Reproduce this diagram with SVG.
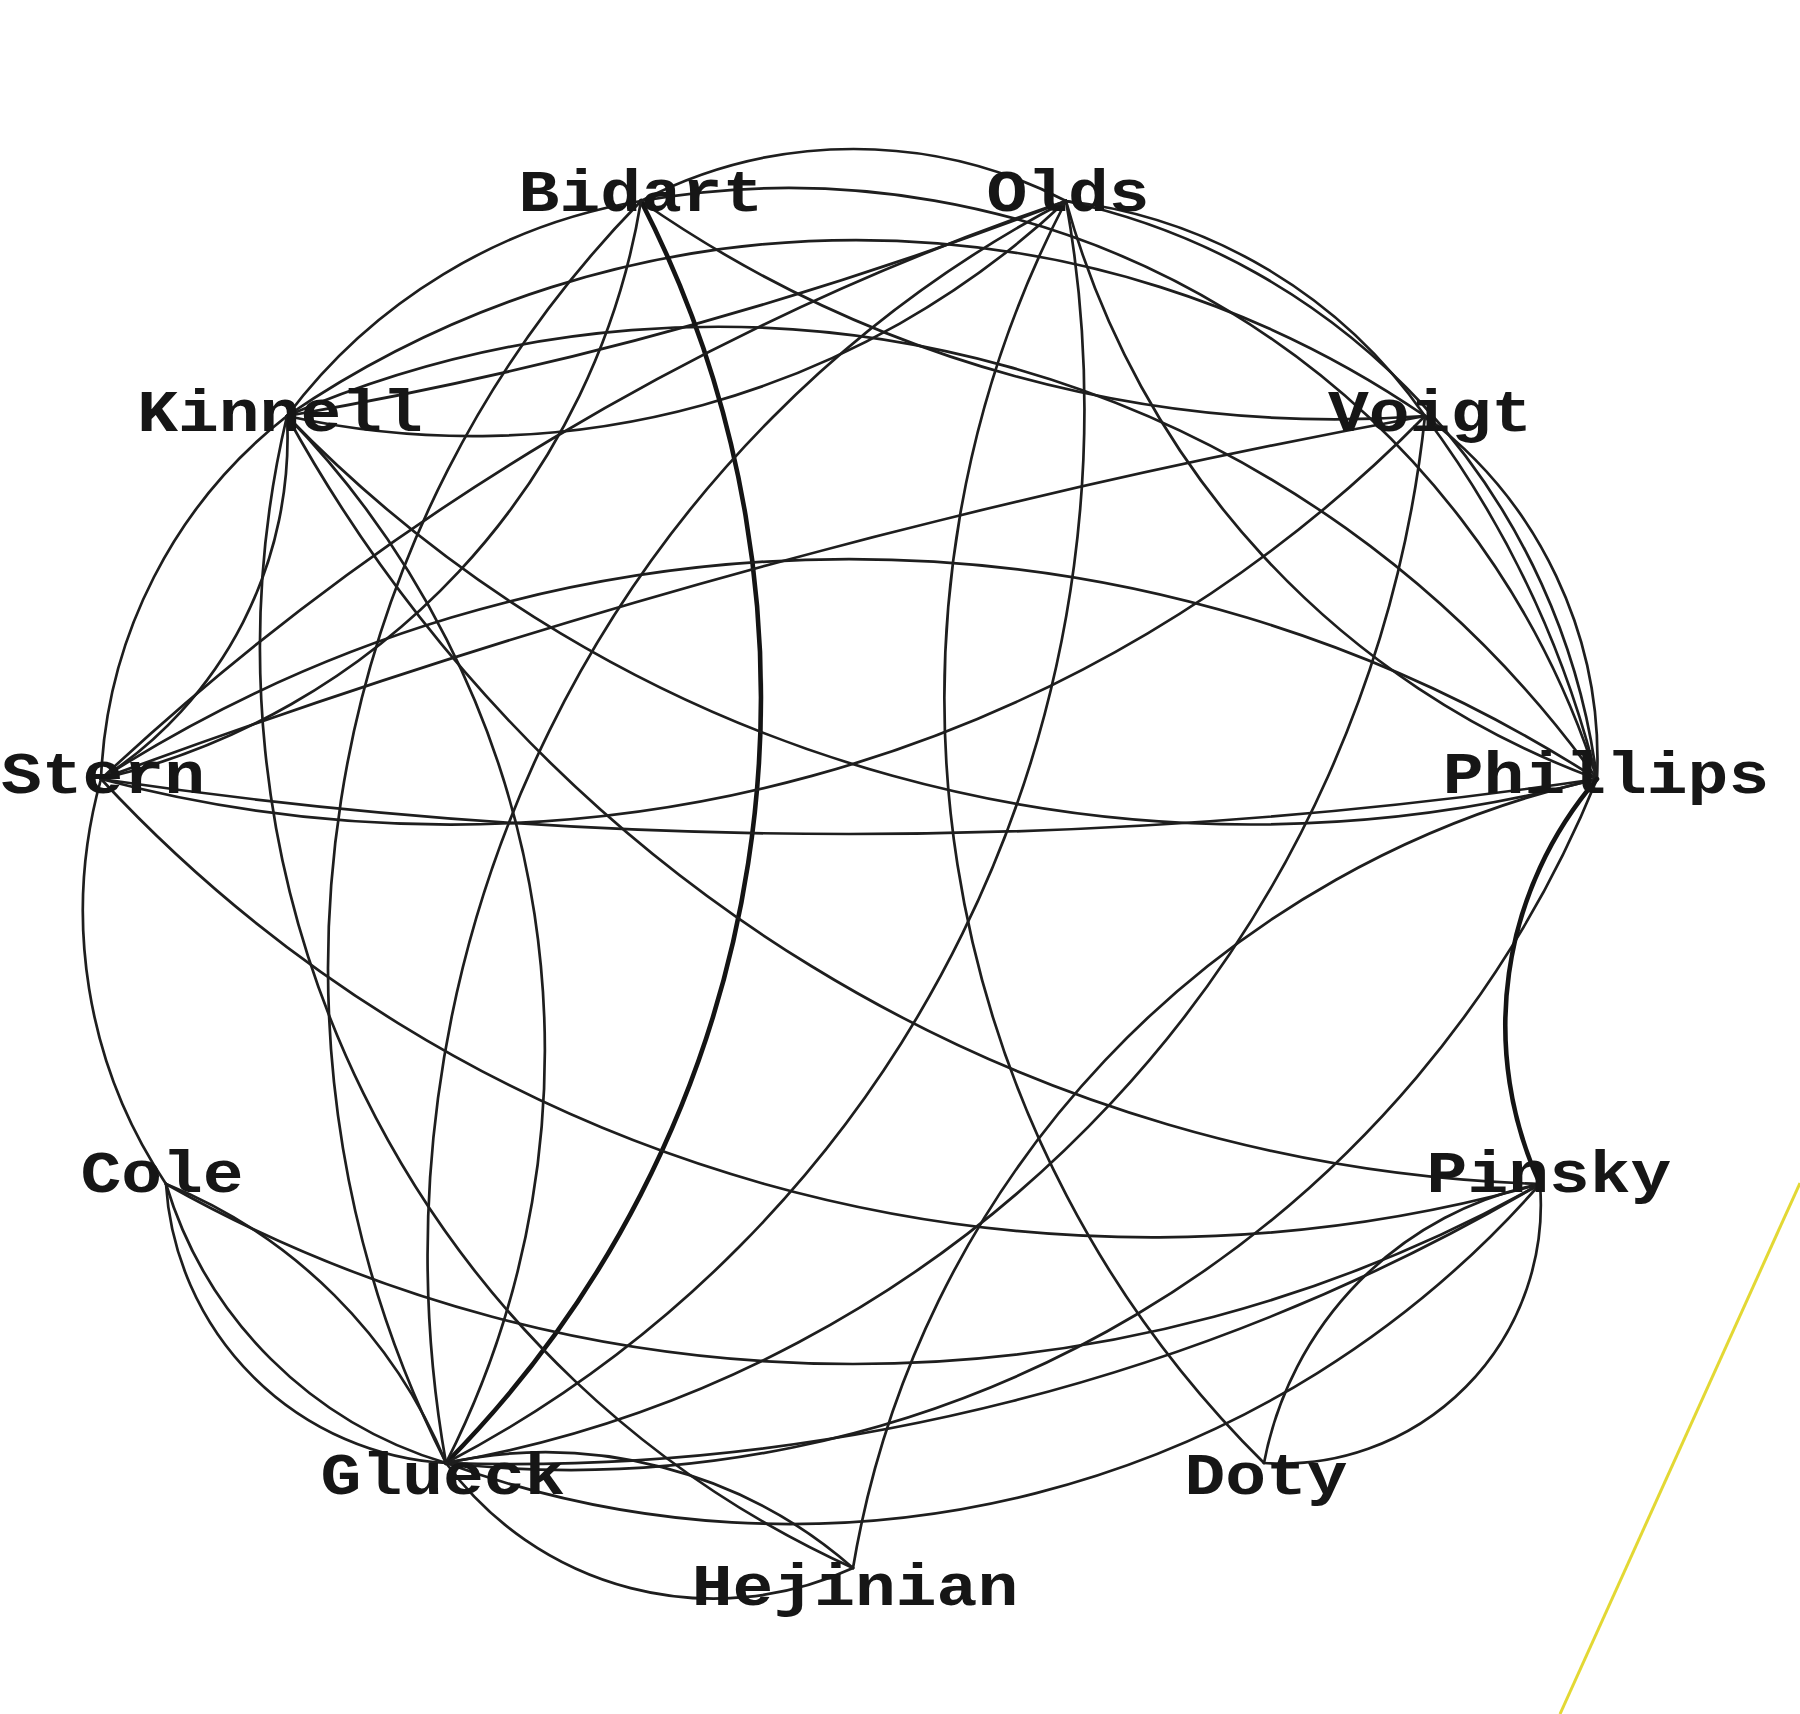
<svg xmlns="http://www.w3.org/2000/svg" width="1800" height="1714" viewBox="0 0 1800 1714">
<style>
.e{fill:none;stroke:#1e1e1e;stroke-width:2.7;stroke-linecap:round}
.t{fill:none;stroke:#141414;stroke-width:4.6;stroke-linecap:round}
.lbl{font-family:"Liberation Mono","Courier New",monospace;font-weight:bold;font-size:68px;fill:#161616;text-anchor:middle}
</style>
<rect width="1800" height="1714" fill="#ffffff"/>
<g id="connectors">
<path class="e" d="M641 201 A460 460 0 0 1 1066 201"/>
<path class="e" d="M287 416 A556 556 0 0 1 641 201"/>
<path class="e" d="M1066 201 A509 509 0 0 1 1425 416"/>
<path class="e" d="M287 416 A1008 1008 0 0 1 1425 416"/>
<path class="e" d="M287 416 A866 866 0 0 0 1066 201"/>
<path class="e" d="M287 416 A4091 4091 0 0 0 1066 201"/>
<path class="e" d="M641 201 A1215 1215 0 0 0 1425 416"/>
<path class="t" d="M641 201 A1088 1088 0 0 1 446 1463"/>
<path class="e" d="M641 201 A1097 1097 0 0 0 446 1463"/>
<path class="e" d="M641 201 A712 712 0 0 1 101 779"/>
<path class="e" d="M641 201 A848 848 0 0 1 1597 779"/>
<path class="e" d="M287 416 A485 485 0 0 0 101 779"/>
<path class="e" d="M287 416 A406 406 0 0 1 101 779"/>
<path class="e" d="M101 779 A1382 1382 0 0 1 1597 779"/>
<path class="e" d="M101 779 A5114 5114 0 0 0 1597 779"/>
<path class="e" d="M101 779 A490 490 0 0 0 166 1184"/>
<path class="e" d="M101 779 A1435 1435 0 0 0 1540 1184"/>
<path class="e" d="M287 416 A1482 1482 0 0 0 1540 1184"/>
<path class="e" d="M287 416 A1010 1010 0 0 0 853 1568"/>
<path class="e" d="M287 416 A910 910 0 0 1 446 1463"/>
<path class="e" d="M287 416 A1341 1341 0 0 0 1597 779"/>
<path class="e" d="M287 416 A1082 1082 0 0 1 1597 779"/>
<path class="e" d="M1066 201 A1076 1076 0 0 0 1264 1463"/>
<path class="e" d="M1066 201 A1189 1189 0 0 0 446 1463"/>
<path class="e" d="M1066 201 A1189 1189 0 0 1 446 1463"/>
<path class="e" d="M1066 201 A858 858 0 0 0 1597 779"/>
<path class="e" d="M1066 201 A679 679 0 0 1 1597 779"/>
<path class="e" d="M1425 416 A428 428 0 0 1 1597 779"/>
<path class="e" d="M1425 416 A1019 1019 0 0 1 1597 779"/>
<path class="e" d="M101 779 A1366 1366 0 0 0 1425 416"/>
<path class="e" d="M101 779 A7869 7869 0 0 1 1425 416"/>
<path class="e" d="M101 779 A2666 2666 0 0 1 1066 201"/>
<path class="e" d="M1597 779 A1108 1108 0 0 1 446 1463"/>
<path class="e" d="M1597 779 A974 974 0 0 0 853 1568"/>
<path class="e" d="M1540 1184 A351 351 0 0 0 1264 1463"/>
<path class="e" d="M1540 1184 A259 259 0 0 1 1264 1463"/>
<path class="t" d="M1597 779 A378 378 0 0 0 1540 1184"/>
<path class="e" d="M166 1184 A298 298 0 0 0 446 1463"/>
<path class="e" d="M166 1184 A416 416 0 0 0 446 1463"/>
<path class="e" d="M166 1184 A508 508 0 0 1 446 1463"/>
<path class="e" d="M446 1463 A332 332 0 0 0 853 1568"/>
<path class="e" d="M446 1463 A467 467 0 0 1 853 1568"/>
<path class="e" d="M166 1184 A1401 1401 0 0 0 1540 1184"/>
<path class="e" d="M446 1463 A998 998 0 0 0 1540 1184"/>
<path class="e" d="M446 1463 A2032 2032 0 0 0 1540 1184"/>
<path class="e" d="M1425 416 A1190 1190 0 0 1 446 1463"/>
</g>
<g id="node-bidart"><text class="lbl" transform="translate(641 211) scale(1 0.86)">Bidart</text></g>
<g id="node-olds"><text class="lbl" transform="translate(1068 211) scale(1 0.86)">Olds</text></g>
<g id="node-kinnell"><text class="lbl" transform="translate(280 431) scale(1 0.86)">Kinnell</text></g>
<g id="node-voigt"><text class="lbl" transform="translate(1430 431) scale(1 0.86)">Voigt</text></g>
<g id="node-stern"><text class="lbl" transform="translate(103 793) scale(1 0.86)">Stern</text></g>
<g id="node-phillips"><text class="lbl" transform="translate(1606 793) scale(1 0.86)">Phillips</text></g>
<g id="node-cole"><text class="lbl" transform="translate(162 1192) scale(1 0.86)">Cole</text></g>
<g id="node-pinsky"><text class="lbl" transform="translate(1549 1192) scale(1 0.86)">Pinsky</text></g>
<g id="node-glueck"><text class="lbl" transform="translate(443 1494) scale(1 0.86)">Glueck</text></g>
<g id="node-doty"><text class="lbl" transform="translate(1266 1494) scale(1 0.86)">Doty</text></g>
<g id="node-hejinian"><text class="lbl" transform="translate(855 1605) scale(1 0.86)">Hejinian</text></g>
<line x1="1800" y1="1183" x2="1560" y2="1714" stroke="#e3d834" stroke-width="3"/>
</svg>
